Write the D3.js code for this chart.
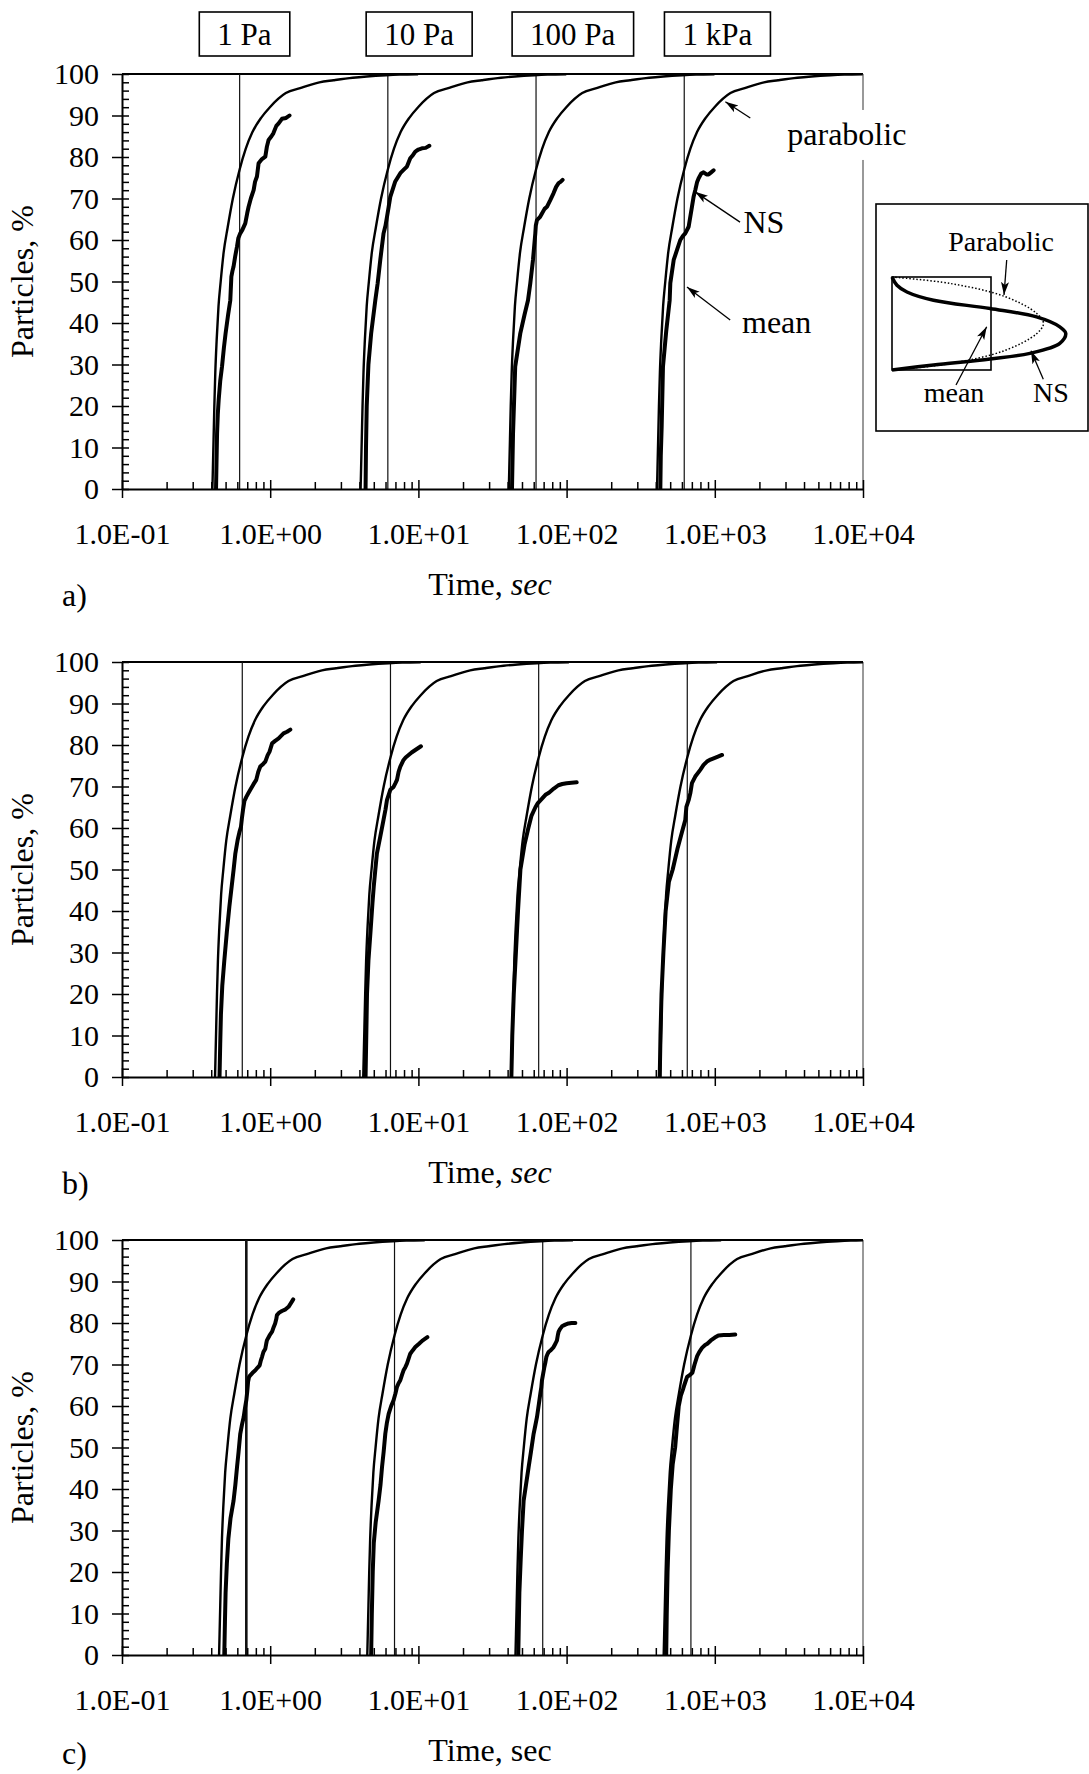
<!DOCTYPE html>
<html>
<head>
<meta charset="utf-8">
<script src="https://cdn.jsdelivr.net/npm/d3@7"></script>
<style>
body { margin: 0; background: #fff; }
svg { display: block; font-family: "Liberation Serif", "Times New Roman", serif; }
</style>
</head>
<body>
<svg id="drawing_region"></svg>
<script>
// ---- data ----
const pressures = ['1 Pa', '10 Pa', '100 Pa', '1 kPa'];
const pressureLabelTime = [0.67, 10.1, 110, 1040];
const xTickValues = [0.1, 1, 10, 100, 1000, 10000];
const xMinorMultipliers = [2, 3, 4, 5, 6, 7, 8, 9];
const yTickValues = [0, 10, 20, 30, 40, 50, 60, 70, 80, 90, 100];
const yMinorValues = [0, 2, 4, 6, 8, 10, 12, 14, 16, 18, 20, 22, 24, 26, 28, 30, 32, 34, 36, 38, 40, 42, 44, 46, 48, 50,
    52, 54, 56, 58, 60, 62, 64, 66, 68, 70, 72, 74, 76, 78, 80, 82, 84, 86, 88, 90, 92, 94, 96, 98, 100];

// mean residence time (vertical lines), sec
const meanTimeA = [0.622, 6.22, 62.2, 622];
const meanTimeB = [0.648, 6.48, 64.8, 652];
const meanTimeC = [0.69, 6.9, 69, 690];

// parabolic profile curve: time / mean time vs % particles out
const parabolicRatio = [0.655, 0.66, 0.667, 0.675, 0.685, 0.70, 0.72, 0.745, 0.78, 0.83, 0.90, 1.0, 1.1, 1.22, 1.4, 1.6, 2.05, 2.56, 3.45, 4.3, 5.8, 7.2, 9.7, 12, 16];
const parabolicPct = [0, 5, 12, 20, 28, 36, 44, 50, 57, 63, 70, 77, 82, 86, 89.5, 92, 95.4, 96.6, 98, 98.5, 99.1, 99.4, 99.7, 99.85, 99.95];

// NS curves [time sec, %]
const nsA = [
    [[0.431,0],[0.434,6],[0.438,13.4],[0.443,18],[0.449,21.4],[0.46,26],[0.473,29.5],[0.487,34],[0.5,37.5],[0.52,42],[0.538,45.5],[0.547,51.2],[0.556,52.5],[0.566,53.6],[0.58,56],[0.597,58.4],[0.61,60.5],[0.628,61.6],[0.65,62.5],[0.679,64],[0.7,66.5],[0.715,68],[0.74,70],[0.773,72],[0.79,74],[0.814,75.3],[0.835,78.5],[0.88,79.5],[0.927,80.1],[0.95,82.5],[0.975,84.1],[1.02,85],[1.05,85.7],[1.1,87.5],[1.14,88.1],[1.2,89.2],[1.28,89.4],[1.35,90.0]],
    [[4.4,0],[4.43,10],[4.48,20],[4.6,30],[4.8,37.5],[5.12,45.5],[5.31,49.6],[5.53,55.2],[5.82,61.6],[6.0,63.5],[6.14,65.6],[6.3,68],[6.46,70.4],[6.75,72.5],[6.98,74.1],[7.55,76.1],[8.0,77],[8.37,77.7],[8.81,79.7],[9.2,80.5],[9.53,81.3],[10.0,81.8],[10.57,82.1],[11.2,82.2],[11.85,82.7]],
    [[42.8,0],[43.5,13.4],[45,29.5],[48.7,37.5],[52,42],[54.9,45.5],[56.9,49.6],[59.3,55.2],[61.5,61.6],[62,63.5],[63.1,64.8],[66,65.5],[68.2,66.4],[71,67.5],[73.7,68],[77.6,69.6],[81.7,71.3],[85,72.8],[88.3,73.7],[91,74],[94,74.5]],
    [[429,0],[432,8],[438,15],[447,29.5],[470,38],[496,45.5],[501,49.6],[528,55.2],[556,57.6],[585,60],[610,61],[632,61.6],[666,63.2],[701,68],[720,70.5],[738,72],[760,74],[778,74.9],[810,76],[840,76.3],[880,75.8],[908,75.8],[945,76.3],[982,76.8]]
];
const nsB = [
    [[0.455,0],[0.46,8],[0.465,15],[0.475,22],[0.49,28],[0.51,35],[0.53,41],[0.55,46],[0.566,49.9],[0.582,53.9],[0.603,57.1],[0.62,59],[0.635,60.3],[0.645,62.5],[0.655,64.3],[0.67,66.5],[0.69,67.5],[0.71,68.3],[0.734,69.2],[0.77,70.5],[0.805,71.6],[0.83,73.5],[0.857,74.8],[0.9,75.5],[0.927,76],[0.96,77.5],[0.99,78.4],[1.03,80.4],[1.08,81],[1.14,81.6],[1.23,82.8],[1.3,83.2],[1.367,83.7]],
    [[4.4,0],[4.45,10],[4.5,20],[4.6,28],[4.75,35],[4.9,42],[5.0,46],[5.12,49.9],[5.25,53.9],[5.53,57.9],[5.82,62],[6.0,64.5],[6.14,66.8],[6.3,68],[6.46,69.2],[6.6,69.5],[6.8,69.9],[7.0,70.8],[7.17,71.6],[7.35,73.5],[7.55,74.8],[7.94,76.4],[8.2,77],[8.59,77.6],[9.0,78.2],[9.53,78.8],[10.4,79.7]],
    [[42.4,0],[43,10],[44,20],[45.5,30],[47,40],[48.8,50],[52,56],[55.2,60],[58,63],[61.6,65],[64,66],[68,67],[72,68],[76,68.5],[82,69.5],[88,70.3],[93.5,70.6],[100,70.8],[108,70.9],[117,71]],
    [[425,0],[430,10],[437,20],[450,30],[466,40],[490,47],[520,50],[560,55],[600,59],[632,61.9],[643,65.1],[666,66.7],[684,68.4],[701,70.8],[738,72.4],[798,74],[840,75.2],[885,76],[935,76.5],[982,76.8],[1050,77.2],[1119,77.6]]
];
const nsC = [
    [[0.49,0],[0.495,8],[0.5,15],[0.51,22],[0.522,28],[0.54,33],[0.566,37.2],[0.582,41],[0.597,45.2],[0.612,49],[0.628,53.3],[0.645,55.5],[0.662,57.3],[0.676,59.5],[0.69,61.4],[0.7,63.5],[0.709,65.8],[0.72,67],[0.734,67.4],[0.76,68],[0.794,68.6],[0.82,69.2],[0.849,69.8],[0.865,71],[0.88,71.8],[0.9,73],[0.927,73.8],[0.94,75],[0.95,75.8],[0.99,77],[1.03,77.9],[1.055,79],[1.08,79.9],[1.1,81],[1.11,81.9],[1.15,82.5],[1.2,82.9],[1.27,83.3],[1.33,83.9],[1.38,84.8],[1.43,85.7]],
    [[4.8,0],[4.85,10],[4.92,20],[5.0,27],[5.15,32],[5.39,37.2],[5.55,41],[5.68,45.2],[5.83,49],[5.98,53.3],[6.12,55.8],[6.3,58.1],[6.55,60],[6.8,61.4],[7.0,63],[7.17,64.6],[7.35,65.5],[7.55,66.2],[7.75,67.5],[7.94,68.6],[8.15,69.3],[8.37,70.2],[8.6,71.5],[8.81,72.6],[9.15,73.4],[9.53,74.2],[10.1,75],[10.6,75.7],[11.0,76.1],[11.5,76.6]],
    [[47.2,0],[47.6,8],[48,15],[49,23],[50,30],[51.3,37.2],[53.2,41],[55.4,45.2],[57.5,49],[59.9,53.3],[61.5,55.3],[63.1,57.3],[65,60.5],[66.5,63],[67.5,64.5],[68.2,66.2],[69.5,67.8],[70.8,69.4],[72,70.6],[73,71.8],[74.3,72.5],[75.6,73],[78.5,73.5],[81.7,74.2],[84,75],[86.1,75.8],[87.2,77],[88.3,77.9],[90.5,78.6],[93.1,79.2],[98,79.6],[103,79.9],[108,80],[114.6,80]],
    [[470,0],[474,10],[480,20],[490,30],[505,40],[520,46],[540,50],[555,55],[571,60],[590,62.5],[610,64],[622,65],[650,67],[680,67.5],[706,68],[730,70],[760,72],[785,73],[820,74],[860,74.7],[890,75],[940,75.8],[1000,76.5],[1057,77],[1150,77.1],[1250,77.1],[1374,77.2]]
];

// inset velocity profiles: position across channel (0..1) and velocity / mean velocity
const insetParabolicPos = [0, 0.07, 0.21, 0.39, 0.5, 0.61, 0.79, 0.93, 1];
const insetParabolicVel = [0, 0.59, 1.14, 1.46, 1.53, 1.46, 1.14, 0.59, 0];
const insetNSPos = [0, 0.089, 0.161, 0.25, 0.339, 0.429, 0.536, 0.607, 0.714, 0.821, 0.882, 0.946, 1];
const insetNSVel = [0, 0.05, 0.151, 0.419, 0.99, 1.46, 1.695, 1.755, 1.695, 1.393, 0.99, 0.419, 0];

const TICK_FONT = 30;
const LABEL_FONT = 32;

const svg = d3.select('#drawing_region')
    .attr('width', 1089)
    .attr('height', 1774);
svg.append('rect').attr('width', 1089).attr('height', 1774).attr('fill', '#fff');

svg.append('defs').append('marker')
    .attr('id', 'arrow')
    .attr('viewBox', '0 -5 13 10')
    .attr('refX', 13).attr('refY', 0)
    .attr('markerWidth', 13).attr('markerHeight', 10)
    .attr('markerUnits', 'userSpaceOnUse')
    .attr('orient', 'auto')
    .append('path')
    .attr('d', 'M0,-4L13,0L0,4L3,0Z')
    .attr('fill', '#000');

const fmtExp = d => {
    const e = Math.round(Math.log10(d));
    return '1.0E' + (e < 0 ? '-' : '+') + String(Math.abs(e)).padStart(2, '0');
};

class ResidenceChart {

    constructor( config, data ) {
        this.config = {
            parent: config.parent,
            id: config.id,
            top: config.top,
            height: config.height || 415,
            left: config.left || 122,
            right: config.right || 863,
            letter: config.letter,
            letterDy: config.letterDy || 117,
            italicUnit: config.italicUnit
        };
        this.data = data;
        this.init();
    }

    init() {
        let self = this;
        const c = self.config;
        self.bottom = c.top + c.height;

        self.x = d3.scaleLog().domain([0.1, 10000]).range([c.left, c.right]);
        self.y = d3.scaleLinear().domain([0, 100]).range([self.bottom, c.top]);

        self.chart = c.parent.append('g');
        self.chart.append('clipPath').attr('id', 'clip-' + c.id)
            .append('rect')
            .attr('x', c.left).attr('y', c.top - 3)
            .attr('width', c.right - c.left).attr('height', c.height + 3);

        self.line = d3.line()
            .x(d => self.x(d[0]))
            .y(d => self.y(d[1]));
    }

    update() {
        this.render();
    }

    render() {
        let self = this;
        const c = self.config;

        // frame: top black, right grey
        self.chart.append('line')
            .attr('x1', c.left).attr('x2', c.right)
            .attr('y1', c.top).attr('y2', c.top)
            .attr('stroke', '#000').attr('stroke-width', 2);
        self.chart.append('line')
            .attr('x1', c.right).attr('x2', c.right)
            .attr('y1', c.top).attr('y2', self.bottom)
            .attr('stroke', '#777').attr('stroke-width', 1.5);

        // mean lines
        self.chart.selectAll('.mean')
            .data(self.data.mean)
            .join('line')
            .attr('class', 'mean')
            .attr('x1', d => self.x(d)).attr('x2', d => self.x(d))
            .attr('y1', c.top).attr('y2', self.bottom)
            .attr('stroke', '#111')
            .attr('stroke-width', (d, i) => self.data.meanWidth[i]);

        const plot = self.chart.append('g').attr('clip-path', `url(#clip-${c.id})`);

        // parabolic curves
        const parabolic = self.data.mean.map(m => parabolicRatio.map((r, i) => [r * m, parabolicPct[i]]));
        plot.selectAll('.parabolic')
            .data(parabolic)
            .join('path')
            .attr('class', 'parabolic')
            .attr('d', self.line.curve(d3.curveMonotoneX))
            .attr('fill', 'none')
            .attr('stroke', '#000')
            .attr('stroke-width', 2.4);

        // NS curves
        plot.selectAll('.ns')
            .data(self.data.ns)
            .join('path')
            .attr('class', 'ns')
            .attr('d', self.line.curve(d3.curveLinear))
            .attr('fill', 'none')
            .attr('stroke', '#000')
            .attr('stroke-width', 4)
            .attr('stroke-linejoin', 'round')
            .attr('stroke-linecap', 'round');

        // y axis: labelled major ticks outside, minor ticks inside
        const yAxis = self.chart.append('g')
            .attr('transform', `translate(${c.left},0)`)
            .call(d3.axisLeft(self.y).tickValues(yTickValues).tickSize(10).tickSizeOuter(0).tickPadding(13));
        self.chart.append('g')
            .attr('transform', `translate(${c.left},0)`)
            .call(d3.axisRight(self.y).tickValues(yMinorValues).tickSize(7).tickFormat(''))
            .call(g => g.select('.domain').remove());

        // x axis
        const minors = [];
        xTickValues.slice(0, -1).forEach(d => xMinorMultipliers.forEach(m => minors.push(d * m)));
        const xAxis = self.chart.append('g')
            .attr('transform', `translate(0,${self.bottom})`)
            .call(d3.axisBottom(self.x).tickValues(xTickValues).tickSize(9).tickSizeOuter(0)
                .tickPadding(25).tickFormat(fmtExp));
        self.chart.append('g')
            .attr('transform', `translate(0,${self.bottom})`)
            .call(d3.axisTop(self.x).tickValues(xTickValues).tickSize(9).tickFormat(''))
            .call(g => g.select('.domain').remove());
        self.chart.append('g')
            .attr('transform', `translate(0,${self.bottom})`)
            .call(d3.axisTop(self.x).tickValues(minors).tickSize(7).tickFormat(''))
            .call(g => g.select('.domain').remove());

        self.chart.selectAll('.tick line').attr('stroke', '#000').attr('stroke-width', 1.5);
        [yAxis, xAxis].forEach(g => {
            g.attr('font-family', null).attr('font-size', TICK_FONT);
            g.select('.domain').attr('stroke', '#000').attr('stroke-width', 2);
            g.selectAll('text').attr('fill', '#000');
        });

        // axis titles
        self.chart.append('text')
            .attr('transform', `translate(33,${(c.top + self.bottom) / 2}) rotate(-90)`)
            .attr('text-anchor', 'middle')
            .attr('font-size', LABEL_FONT)
            .text('Particles, %');

        const tl = self.chart.append('text')
            .attr('x', 490).attr('y', self.bottom + 106)
            .attr('text-anchor', 'middle')
            .attr('font-size', LABEL_FONT);
        tl.append('tspan').text('Time, ');
        tl.append('tspan').attr('font-style', c.italicUnit ? 'italic' : 'normal').text('sec');

        self.chart.append('text')
            .attr('x', 62).attr('y', self.bottom + c.letterDy)
            .attr('font-size', LABEL_FONT)
            .text(c.letter);
    }
}

const chartA = new ResidenceChart({ parent: svg, id: 'a', top: 74, letter: 'a)', italicUnit: true },
    { mean: meanTimeA, meanWidth: [1.2, 1.2, 1.2, 1.2], ns: nsA });
chartA.update();
const chartB = new ResidenceChart({ parent: svg, id: 'b', top: 662, letter: 'b)', italicUnit: true },
    { mean: meanTimeB, meanWidth: [1.2, 1.2, 1.2, 1.2], ns: nsB });
chartB.update();
const chartC = new ResidenceChart({ parent: svg, id: 'c', top: 1240, letter: 'c)', letterDy: 109, italicUnit: false },
    { mean: meanTimeC, meanWidth: [2.6, 1.2, 1.2, 1.2], ns: nsC });
chartC.update();

// pressure boxes above panel a
const boxes = svg.append('g');
pressures.forEach((p, i) => {
    const g = boxes.append('g');
    const t = g.append('text')
        .attr('x', chartA.x(pressureLabelTime[i])).attr('y', 45)
        .attr('text-anchor', 'middle')
        .attr('font-size', 31)
        .text(p);
    const bb = t.node().getBBox();
    g.insert('rect', 'text')
        .attr('x', bb.x - 18).attr('y', 12)
        .attr('width', bb.width + 36).attr('height', 44)
        .attr('fill', '#fff').attr('stroke', '#000').attr('stroke-width', 1.6);
});

// annotations on panel a (positions in data units)
const ann = svg.append('g');
const xa = chartA.x, ya = chartA.y;
const parLabel = ann.append('text')
    .attr('x', xa(3085)).attr('y', ya(82.9))
    .attr('font-size', LABEL_FONT).text('parabolic');
const pb = parLabel.node().getBBox();
ann.insert('rect', 'text')
    .attr('x', pb.x).attr('y', pb.y - 6)
    .attr('width', pb.width).attr('height', pb.height + 14)
    .attr('fill', '#fff');
ann.append('text').attr('x', xa(1560)).attr('y', ya(61.7)).attr('font-size', LABEL_FONT).text('NS');
ann.append('text').attr('x', xa(1526)).attr('y', ya(37.6)).attr('font-size', LABEL_FONT).text('mean');
const arrows = [
    [[1736, 89.4], [1178, 93.3]],
    [[1480, 64.3], [736, 71.6]],
    [[1270, 40.7], [649, 48.7]]
];
ann.selectAll('.arr')
    .data(arrows)
    .join('line')
    .attr('x1', d => xa(d[0][0])).attr('y1', d => ya(d[0][1]))
    .attr('x2', d => xa(d[1][0])).attr('y2', d => ya(d[1][1]))
    .attr('stroke', '#000').attr('stroke-width', 1.3)
    .attr('marker-end', 'url(#arrow)');

// inset: velocity profiles
const inset = svg.append('g');
inset.append('rect')
    .attr('x', 876).attr('y', 204).attr('width', 212).attr('height', 227)
    .attr('fill', '#fff').attr('stroke', '#000').attr('stroke-width', 1.6);
const uS = d3.scaleLinear().domain([0, 1]).range([892, 991]);
const pS = d3.scaleLinear().domain([0, 1]).range([277, 370]);
inset.append('rect')
    .attr('x', uS(0)).attr('y', pS(0))
    .attr('width', uS(1) - uS(0)).attr('height', pS(1) - pS(0))
    .attr('fill', 'none').attr('stroke', '#000').attr('stroke-width', 1.6);
const profLine = d3.line().x(d => uS(d[0])).y(d => pS(d[1])).curve(d3.curveCatmullRom);
inset.append('path')
    .attr('d', profLine(insetParabolicVel.map((v, i) => [v, insetParabolicPos[i]])))
    .attr('fill', 'none').attr('stroke', '#000').attr('stroke-width', 1.5)
    .attr('stroke-dasharray', '1.5,2');
inset.append('path')
    .attr('d', profLine(insetNSVel.map((v, i) => [v, insetNSPos[i]])))
    .attr('fill', 'none').attr('stroke', '#000').attr('stroke-width', 3.5);
const insetText = [['Parabolic', 1001, 251], ['mean', 954, 402], ['NS', 1051, 402]];
inset.selectAll('.it')
    .data(insetText)
    .join('text')
    .attr('x', d => d[1]).attr('y', d => d[2])
    .attr('text-anchor', 'middle')
    .attr('font-size', 28)
    .text(d => d[0]);
const insetArrows = [[1006.7, 260, 1004, 295], [956, 385, 986.7, 326.7], [1043.3, 379.3, 1031, 350.7]];
inset.selectAll('.ia')
    .data(insetArrows)
    .join('line')
    .attr('x1', d => d[0]).attr('y1', d => d[1])
    .attr('x2', d => d[2]).attr('y2', d => d[3])
    .attr('stroke', '#000').attr('stroke-width', 1.3)
    .attr('marker-end', 'url(#arrow)');
</script>
</body>
</html>
